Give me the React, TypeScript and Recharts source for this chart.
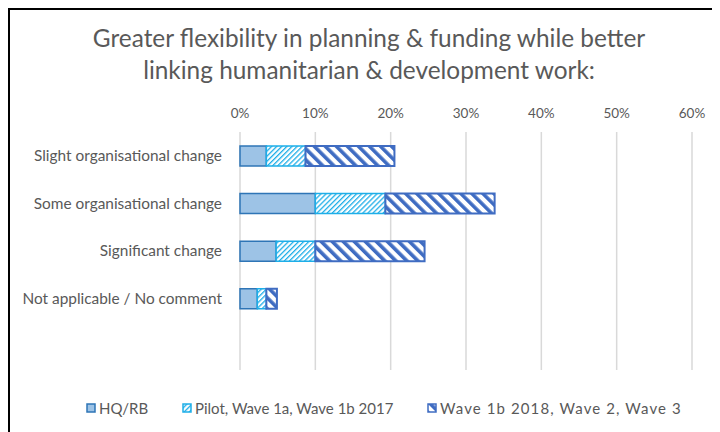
import React from "react";
import { BarChart, Bar, XAxis, YAxis, CartesianGrid } from "recharts";

const categories = [
  "Slight organisational change",
  "Some organisational change",
  "Significant change",
  "Not applicable / No comment",
  "",
];
const hqRb = [3.5, 10, 4.8, 2.3, null];
const pilotWave1 = [5.2, 9.3, 5.2, 1.2, null];
const wave1b2018 = [11.8, 14.5, 14.5, 1.4, null];
const xTicks = [0, 10, 20, 30, 40, 50, 60];
const seriesNames = ["HQ/RB", "Pilot, Wave 1a, Wave 1b 2017", "Wave 1b 2018, Wave 2, Wave 3"];
const titleLines = [
  "Greater flexibility in planning & funding while better",
  "linking humanitarian & development work:",
];

const data = categories.map((c, i) => ({
  name: c,
  hq: hqRb[i],
  pilot: pilotWave1[i],
  wave: wave1b2018[i],
}));

const FONT = "Lato, 'Open Sans', sans-serif";
const TEXT = "#595959";
const HQ_FILL = "#9dc3e6";
const HQ_STROKE = "#2e75b6";
const PILOT_COLOR = "#1eaee8";
const WAVE_COLOR = "#3f6cc2";

function PatternDefs({ suffix }: { suffix: string }) {
  return (
    <defs>
      <pattern
        id={"pilot" + suffix}
        width={3.6}
        height={3.6}
        patternUnits="userSpaceOnUse"
        patternTransform="rotate(45)"
      >
        <rect x={0} y={0} width={3.6} height={3.6} fill="#fff" />
        <rect x={0} y={0} width={1.3} height={3.6} fill={PILOT_COLOR} />
      </pattern>
      <pattern
        id={"wave" + suffix}
        width={7.8}
        height={7.8}
        patternUnits="userSpaceOnUse"
        patternTransform="rotate(-45)"
      >
        <rect x={0} y={0} width={7.8} height={7.8} fill="#fff" />
        <rect x={0} y={0} width={3.6} height={7.8} fill={WAVE_COLOR} />
      </pattern>
    </defs>
  );
}

function LegendIcon({ kind }: { kind: string }) {
  const sfx = "-lg-" + kind;
  const fill = kind === "hq" ? HQ_FILL : `url(#${kind}${sfx})`;
  const stroke = kind === "hq" ? HQ_STROKE : kind === "pilot" ? PILOT_COLOR : WAVE_COLOR;
  return (
    <svg width={10} height={10} style={{ marginRight: 3, display: "block" }}>
      <PatternDefs suffix={sfx} />
      <rect x={1} y={1} width={8} height={8} fill={fill} stroke={stroke} strokeWidth={1.5} />
    </svg>
  );
}

export default function App() {
  const legendItems = [
    { kind: "hq", label: seriesNames[0], left: 76, ls: 0 },
    { kind: "pilot", label: seriesNames[1], left: 172, ls: 0 },
    { kind: "wave", label: seriesNames[2], left: 417, ls: 1.1 },
  ];
  return (
    <div
      style={{
        position: "relative",
        width: 712,
        height: 424,
        borderTop: "2px solid #000",
        borderLeft: "2px solid #000",
        boxSizing: "border-box",
        background: "#fff",
        fontFamily: FONT,
      }}
    >
      <div
        style={{
          position: "absolute",
          left: 0,
          top: 12,
          width: 718,
          textAlign: "center",
          fontSize: 24.4,
          lineHeight: "32px",
          color: TEXT,
        }}
      >
        {titleLines.map((t, i) => (
          <div key={i}>{t}</div>
        ))}
      </div>
      <div style={{ position: "absolute", left: 0, top: 0 }}>
        <BarChart
          width={710}
          height={422}
          data={data}
          layout="vertical"
          margin={{ top: 92, right: 28, bottom: 62, left: 0 }}
          barSize={20}
        >
          <PatternDefs suffix="" />
          <CartesianGrid horizontal={false} vertical={true} stroke="#d9d9d9" strokeWidth={1.5} />
          <XAxis
            type="number"
            orientation="top"
            domain={[0, 60]}
            ticks={xTicks}
            tickFormatter={(v: number) => v + "%"}
            axisLine={false}
            tickLine={false}
            tickSize={0}
            tickMargin={14}
            height={30}
            tick={{ fill: TEXT, fontSize: 13.5, fontFamily: FONT }}
          />
          <YAxis
            type="category"
            dataKey="name"
            width={230}
            axisLine={false}
            tickLine={false}
            tickSize={0}
            tickMargin={18}
            interval={0}
            tick={{ fill: TEXT, fontSize: 15.4, fontFamily: FONT }}
          />
          <Bar
            dataKey="hq"
            stackId="a"
            fill={HQ_FILL}
            stroke={HQ_STROKE}
            strokeWidth={1.5}
            isAnimationActive={false}
          />
          <Bar
            dataKey="pilot"
            stackId="a"
            fill="url(#pilot)"
            stroke={PILOT_COLOR}
            strokeWidth={1.5}
            isAnimationActive={false}
          />
          <Bar
            dataKey="wave"
            stackId="a"
            fill="url(#wave)"
            stroke={WAVE_COLOR}
            strokeWidth={2}
            isAnimationActive={false}
          />
        </BarChart>
      </div>
      {legendItems.map((it) => (
        <div
          key={it.kind}
          style={{
            position: "absolute",
            left: it.left,
            top: 389,
            display: "flex",
            alignItems: "center",
            fontSize: 15,
            color: TEXT,
            whiteSpace: "nowrap",
            letterSpacing: it.ls,
          }}
        >
          <LegendIcon kind={it.kind} />
          <span>{it.label}</span>
        </div>
      ))}
    </div>
  );
}
